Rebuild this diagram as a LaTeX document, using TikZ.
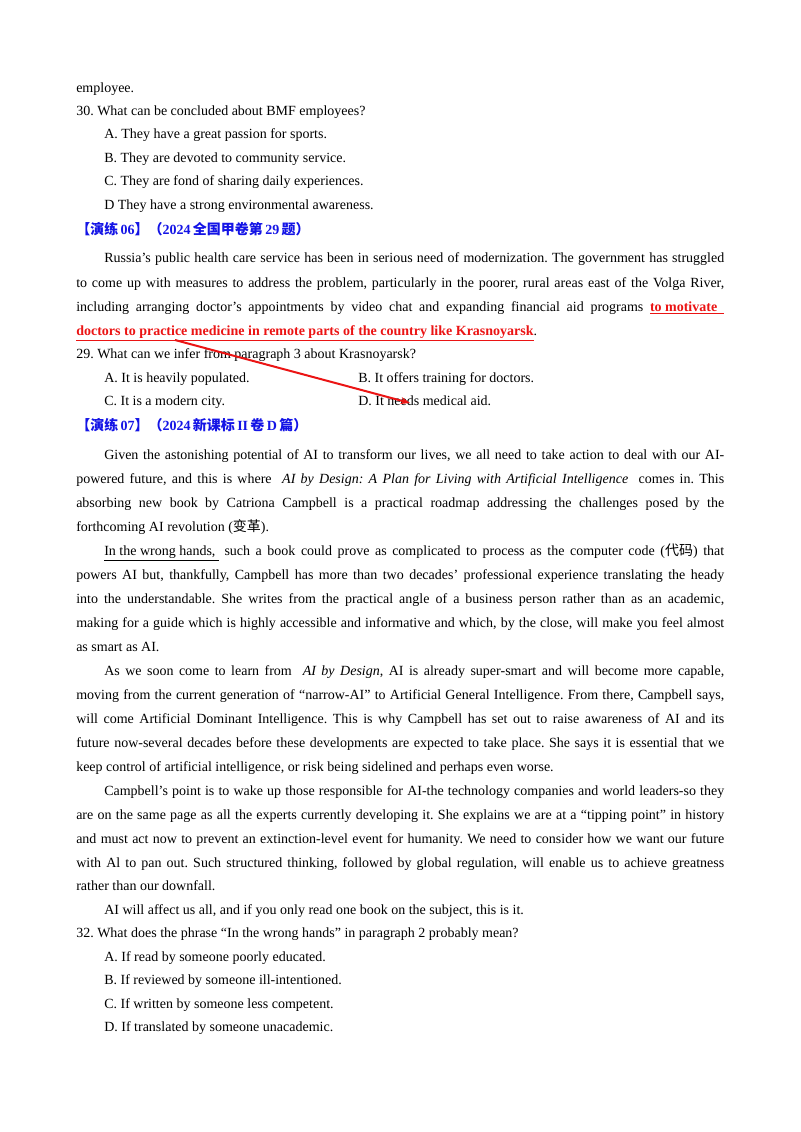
\documentclass[tikz,border=0pt]{standalone}
\usepackage{fontspec}
\setmainfont{Liberation Serif}
\newfontfamily\cjk{Noto Sans CJK SC}
\usetikzlibrary{arrows.meta}
\definecolor{hdblue}{RGB}{20,20,230}
\definecolor{redul}{RGB}{235,20,20}
\newcommand{\J}[2][648]{\makebox[#1\dimexpr0.75pt\relax][s]{#2}}
\newcommand{\R}[1]{\textcolor{redul}{\bfseries\underline{#1}}}
\frenchspacing
\begin{document}
\begin{tikzpicture}[x=0.75pt,y=-0.75pt,
  ln/.style={anchor=base west,inner sep=0pt,font=\fontsize{10.5}{12}\selectfont\frenchspacing},
  hd/.style={ln,text=hdblue,font=\fontsize{10.5}{12}\selectfont\bfseries}]
\fill[white] (0,0) rectangle (800,1132);
\node[ln] (l1) at (76,92) {employee.};
\node[ln] (l2) at (76,115) {30. What can be concluded about BMF employees?};
\node[ln] (l3) at (104,138) {A. They have a great passion for sports.};
\node[ln] (l4) at (104,162) {B. They are devoted to community service.};
\node[ln] (l5) at (104,185) {C. They are fond of sharing daily experiences.};
\node[ln] (l6) at (104,209) {D They have a strong environmental awareness.};
\node[hd] (h1) at (76,234) {{\cjk\bfseries 【演练}\,06{\cjk\bfseries 】（}2024\,{\cjk\bfseries 全国甲卷第}\,29\,{\cjk\bfseries 题）}};
\node[ln] (r1) at (104,262) {\J[620]{Russia’s public health care service has been in serious need of modernization. The government has struggled}};
\node[ln] (r2) at (76,287) {\J{to come up with measures to address the problem, particularly in the poorer, rural areas east of the Volga River,}};
\node[ln] (r3) at (76,311) {\J{including arranging doctor’s appointments by video chat and expanding financial aid programs \R{to motivate\ \ }}};
\node[ln] (r4) at (76,335) {\R{doctors to practice medicine in remote parts of the country like Krasnoyarsk}.};
\node[ln] (q1) at (76,358) {29. What can we infer from paragraph 3 about Krasnoyarsk?};
\node[ln] (qa) at (104,382) {A. It is heavily populated.};
\node[ln] (qb) at (358,382) {B. It offers training for doctors.};
\node[ln] (qc) at (104,405) {C. It is a modern city.};
\node[ln] (qd) at (358,405) {D. It needs medical aid.};
\coordinate (as) at (175,340);
\coordinate (ae) at (410,403);
\draw[redul,line width=1.5pt,-{Stealth[length=7pt]}] (as) -- (ae);
\node[hd] (h2) at (76,430) {{\cjk\bfseries 【演练}\,07{\cjk\bfseries 】（}2024\,{\cjk\bfseries 新课标}\,II\,{\cjk\bfseries 卷}\,D\,{\cjk\bfseries 篇）}};
\node[ln] (p1) at (104,459) {\J[620]{Given the astonishing potential of AI to transform our lives, we all need to take action to deal with our AI-}};
\node[ln] (p2) at (76,483) {\J{powered future, and this is where \ \textit{AI by Design: A Plan for Living with Artificial Intelligence} \ comes in. This}};
\node[ln] (p3) at (76,507) {\J{absorbing new book by Catriona Campbell is a practical roadmap addressing the challenges posed by the}};
\node[ln] (p4) at (76,531) {forthcoming AI revolution ({\cjk 变革}).};
\node[ln] (p5) at (104,555) {\J[620]{\underline{In the wrong hands,\ } such a book could prove as complicated to process as the computer code ({\cjk 代码}) that}};
\node[ln] (p6) at (76,579) {\J{powers AI but, thankfully, Campbell has more than two decades’ professional experience translating the heady}};
\node[ln] (p7) at (76,603) {\J{into the understandable. She writes from the practical angle of a business person rather than as an academic,}};
\node[ln] (p8) at (76,627) {\J{making for a guide which is highly accessible and informative and which, by the close, will make you feel almost}};
\node[ln] (p9) at (76,651) {as smart as AI.};
\node[ln] (p10) at (104,675) {\J[620]{As we soon come to learn from \ \textit{AI by Design}, AI is already super-smart and will become more capable,}};
\node[ln] (p11) at (76,699) {\J{moving from the current generation of “narrow-AI” to Artificial General Intelligence. From there, Campbell says,}};
\node[ln] (p12) at (76,723) {\J{will come Artificial Dominant Intelligence. This is why Campbell has set out to raise awareness of AI and its}};
\node[ln] (p13) at (76,747) {\J{future now-several decades before these developments are expected to take place. She says it is essential that we}};
\node[ln] (p14) at (76,771) {keep control of artificial intelligence, or risk being sidelined and perhaps even worse.};
\node[ln] (p15) at (104,795) {\J[620]{Campbell’s point is to wake up those responsible for AI-the technology companies and world leaders-so they}};
\node[ln] (p16) at (76,819) {\J{are on the same page as all the experts currently developing it. She explains we are at a “tipping point” in history}};
\node[ln] (p17) at (76,843) {\J{and must act now to prevent an extinction-level event for humanity. We need to consider how we want our future}};
\node[ln] (p18) at (76,867) {\J{with Al to pan out. Such structured thinking, followed by global regulation, will enable us to achieve greatness}};
\node[ln] (p19) at (76,890) {rather than our downfall.};
\node[ln] (p20) at (104,914) {AI will affect us all, and if you only read one book on the subject, this is it.};
\node[ln] (q2) at (76,937) {32. What does the phrase “In the wrong hands” in paragraph 2 probably mean?};
\node[ln] (oa) at (104,961) {A. If read by someone poorly educated.};
\node[ln] (ob) at (104,984) {B. If reviewed by someone ill-intentioned.};
\node[ln] (oc) at (104,1008) {C. If written by someone less competent.};
\node[ln] (od) at (104,1031) {D. If translated by someone unacademic.};
\end{tikzpicture}
\end{document}
